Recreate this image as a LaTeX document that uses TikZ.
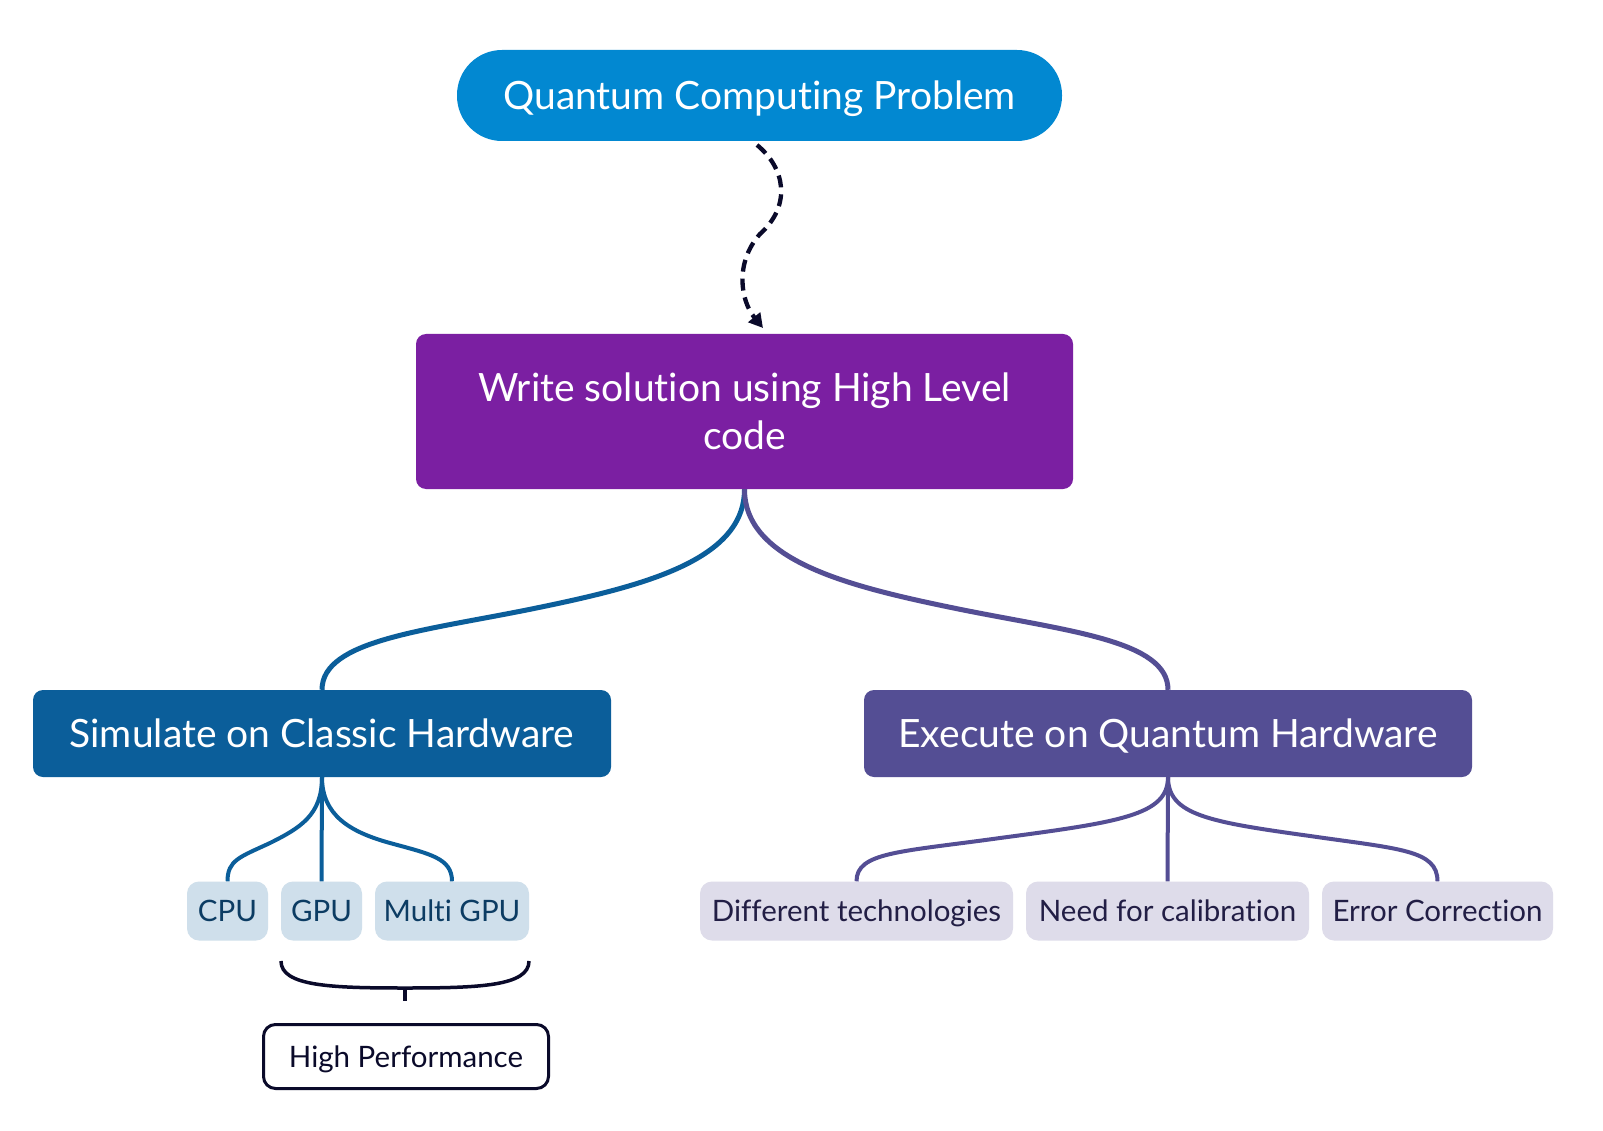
\documentclass[tikz,border=0pt]{standalone}
\usepackage{fontspec}
\setmainfont{Lato}[Ligatures={NoCommon}]
\usetikzlibrary{arrows.meta}
\definecolor{pillblue}{HTML}{0288D1}
\definecolor{purplebox}{HTML}{7B1FA2}
\definecolor{classic}{HTML}{0B5E9A}
\definecolor{quantum}{HTML}{544E94}
\definecolor{lightblue}{HTML}{CFDFEB}
\definecolor{lightlav}{HTML}{DEDCEA}
\definecolor{cltext}{HTML}{0C3C63}
\definecolor{qutext}{HTML}{221E45}
\definecolor{navy}{HTML}{0A0A2A}
\tikzset{
  mainbox/.style={rectangle, rounded corners=10pt, inner sep=0pt, text=white, align=center, text height=28pt, text depth=0pt, font=\fontsize{39}{48}\selectfont},
  childbox/.style={rectangle, rounded corners=12pt, inner sep=0pt, minimum height=59pt, text height=21pt, text depth=0pt, font=\fontsize{29.5}{34}\selectfont},
  childcl/.style={childbox, fill=lightblue, text=cltext},
  childqu/.style={childbox, fill=lightlav, text=qutext},
  conncl/.style={draw=classic, line width=5pt},
  connqu/.style={draw=quantum, line width=5pt},
  subcl/.style={draw=classic, line width=4pt},
  subqu/.style={draw=quantum, line width=4pt},
  dasharrow/.style={draw=navy, line width=4.3pt, dash pattern=on 12pt off 7pt, -{Triangle[length=14pt,width=15pt]}},
}
\begin{document}
\begin{tikzpicture}[x=1pt,y=-1pt]
\useasboundingbox (0,0) rectangle (1603,1131);
\fill[white] (0,0) rectangle (1603,1131);

\node[mainbox, fill=pillblue, rounded corners=45pt, minimum width=605pt, minimum height=91pt] (qcp) at (759.5,95.5) {Quantum Computing Problem};
\node[mainbox, fill=purplebox, minimum width=657pt, minimum height=155pt, text height=76pt, text depth=0pt] (write) at (744.5,411.5) {Write solution using High Level\\code};
\node[mainbox, fill=classic, minimum width=578pt, minimum height=87pt] (sim) at (322,733.5) {Simulate on Classic Hardware};
\node[mainbox, fill=quantum, minimum width=608pt, minimum height=87pt] (exe) at (1168,733.5) {Execute on Quantum Hardware};

\node[childcl, minimum width=81pt] (cpu) at (227.5,911) {CPU};
\node[childcl, minimum width=81pt] (gpu) at (321.5,911) {GPU};
\node[childcl, minimum width=154pt] (mgpu) at (452,911) {Multi GPU};

\node[childqu, minimum width=313pt] (diff) at (856.5,911) {Different technologies};
\node[childqu, minimum width=283pt] (calib) at (1167.5,911) {Need for calibration};
\node[childqu, minimum width=231pt] (err) at (1437.5,911) {Error Correction};

\node[childbox, draw=navy, line width=3pt, fill=white, text=navy, minimum width=285pt, minimum height=64pt] (hp) at (406,1056.5) {High Performance};

% dashed arrow
\coordinate (ds) at (757,145);
\coordinate (dm) at (760,234);
\coordinate (de) at (763,328);
\draw[dasharrow] (ds) .. controls (785,168) and (792,205) .. (dm) .. controls (735,262) and (740,300) .. (de);

% main connectors
\coordinate (ml) at (534,608.5);
\coordinate (mr) at (956,608.5);
\draw[conncl] (write.south) .. controls +(0,71) and (644,586) .. (ml) .. controls (424,631) and (322,640) .. (sim.north);
\draw[connqu] (write.south) .. controls +(0,71) and (846,586) .. (mr) .. controls (1066,631) and (1168,640) .. (exe.north);

% classic children
\coordinate (mc1) at (270,843);
\coordinate (mc3) at (390,843);
\draw[subcl] (sim.south) .. controls +(0,38) and (300,828) .. (mc1) .. controls (240,857) and (227.5,860) .. (cpu.north);
\draw[subcl] (sim.south) -- (gpu.north);
\draw[subcl] (sim.south) .. controls +(0,38) and (350,832) .. (mc3) .. controls (430,854) and (452,858) .. (mgpu.north);

% quantum children
\coordinate (mq1) at (1000,838);
\coordinate (mq3) at (1310,836);
\draw[subqu] (exe.south) .. controls +(0,38) and (1120,822) .. (mq1) .. controls (900,852) and (856.5,852) .. (diff.north);
\draw[subqu] (exe.south) -- (calib.north);
\draw[subqu] (exe.south) .. controls +(0,38) and (1210,822) .. (mq3) .. controls (1400,849) and (1437.5,850) .. (err.north);

% brace
\coordinate (bl) at (281,961);
\coordinate (bm) at (405,988);
\coordinate (br) at (529,961);
\coordinate (bt) at (405,1001);
\draw[navy, line width=3.5pt] (bl) .. controls (281,986) and (330,988) .. (bm) .. controls (480,988) and (529,986) .. (br);
\draw[navy, line width=3.5pt] (bm) -- (bt);
\end{tikzpicture}
\end{document}
